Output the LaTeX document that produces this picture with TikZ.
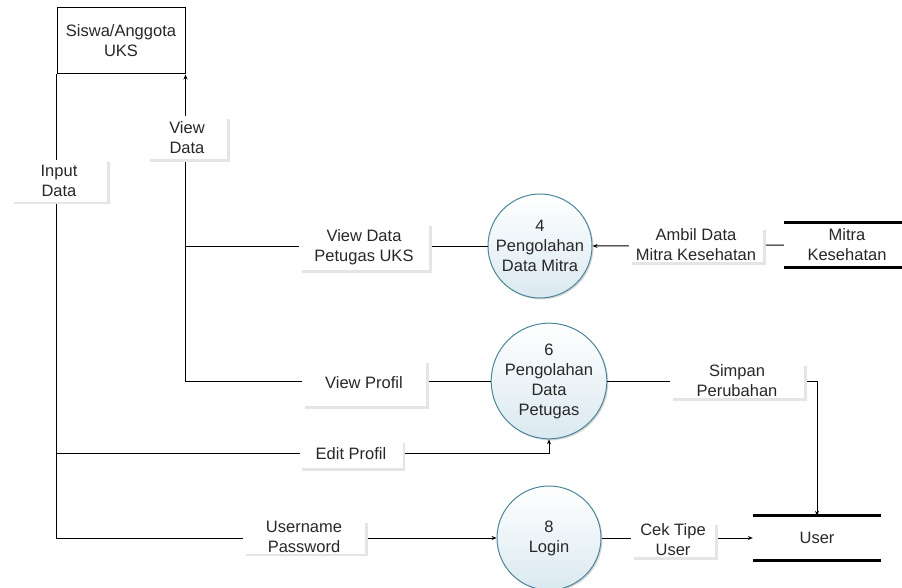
\documentclass[tikz,border=0pt]{standalone}
\usepackage{fontspec}
\setmainfont{Liberation Sans}
\usetikzlibrary{arrows.meta,shadows}
\definecolor{procborder}{RGB}{74,134,153}
\definecolor{procfill}{RGB}{218,233,240}
\definecolor{txt}{RGB}{40,40,40}
\begin{document}
\begin{tikzpicture}[x=1pt,y=-1pt,
  font=\fontsize{16.5}{20}\selectfont, text=txt,
  proc/.style={circle, draw=procborder, line width=1pt, top color=white, bottom color=procfill,
    minimum size=104pt, inner sep=0pt, align=center,
    drop shadow={shadow xshift=1.5pt,shadow yshift=-1.5pt,fill=black!30,opacity=0.5}},
  entity/.style={draw=black, line width=1pt, minimum width=128pt, minimum height=66pt, align=center, fill=white},
  store/.style={minimum height=44pt, align=center, inner sep=0pt},
  storeline/.style={line width=3pt, line cap=butt},
  flow/.style={line width=1pt, -{Stealth[length=5pt,width=4pt]}},
  plain/.style={line width=1pt},
  lbl/.style={fill=white, align=center, inner sep=1pt,
    drop shadow={shadow xshift=2.5pt,shadow yshift=-2.5pt,fill=black!10,opacity=1}}]
\useasboundingbox (0,0) rectangle (902,588);
\fill[white] (0,0) rectangle (902,588);
% main nodes
\node[entity] (sis) at (121,41) {Siswa/Anggota\\UKS};
\node[proc] (p4) at (540,246) {4\\Pengolahan\\Data Mitra};
\node[proc] (p6) at (549,381) {6\\Pengolahan\\Data\\Petugas};
\node[proc] (login) at (549,538) {8\\Login};
\node[store, minimum width=126pt] (mitra) at (847,245) {Mitra\\Kesehatan};
\node[store, minimum width=128pt] (user) at (817,538) {User};
\draw[storeline] (mitra.north west) -- (mitra.north east) (mitra.south west) -- (mitra.south east);
\draw[storeline] (user.north west) -- (user.north east) (user.south west) -- (user.south east);
% connectors
\coordinate (j1) at (185,246);
\coordinate (j2) at (57,453);
\draw[flow] (p4.west) -| (sis.south east);
\draw[plain] (p6.west) -| (j1);
\draw[flow] (sis.south west) |- (login.west);
\draw[flow] (j2) -| (p6.south);
\draw[flow] (mitra.west) -- (p4.east);
\draw[flow] (p6.east) -| (user.north);
\draw[flow] (login.east) -- (user.west);
% labels
\node[lbl, minimum width=96pt, minimum height=42pt] (lin) at (59,181) {Input\\Data};
\node[lbl, minimum width=80pt, minimum height=43pt] (lvd) at (187,138) {View\\Data};
\node[lbl, minimum width=130pt, minimum height=46pt] (lvdp) at (364,247) {View Data\\Petugas UKS};
\node[lbl, minimum width=124pt, minimum height=46pt] (lvp) at (364,383) {View Profil};
\node[lbl, minimum width=134pt, minimum height=34pt] (lam) at (696,245) {Ambil Data\\Mitra Kesehatan};
\node[lbl, minimum width=134pt, minimum height=32pt] (lsp) at (737,381) {Simpan\\Perubahan};
\node[lbl, minimum width=103pt, minimum height=28pt] (lep) at (351,454) {Edit Profil};
\node[lbl, minimum width=122pt, minimum height=26pt] (lup) at (304,537) {Username\\Password};
\node[lbl, minimum width=84pt, minimum height=26pt] (lct) at (673,540) {Cek Tipe\\User};
\end{tikzpicture}
\end{document}
